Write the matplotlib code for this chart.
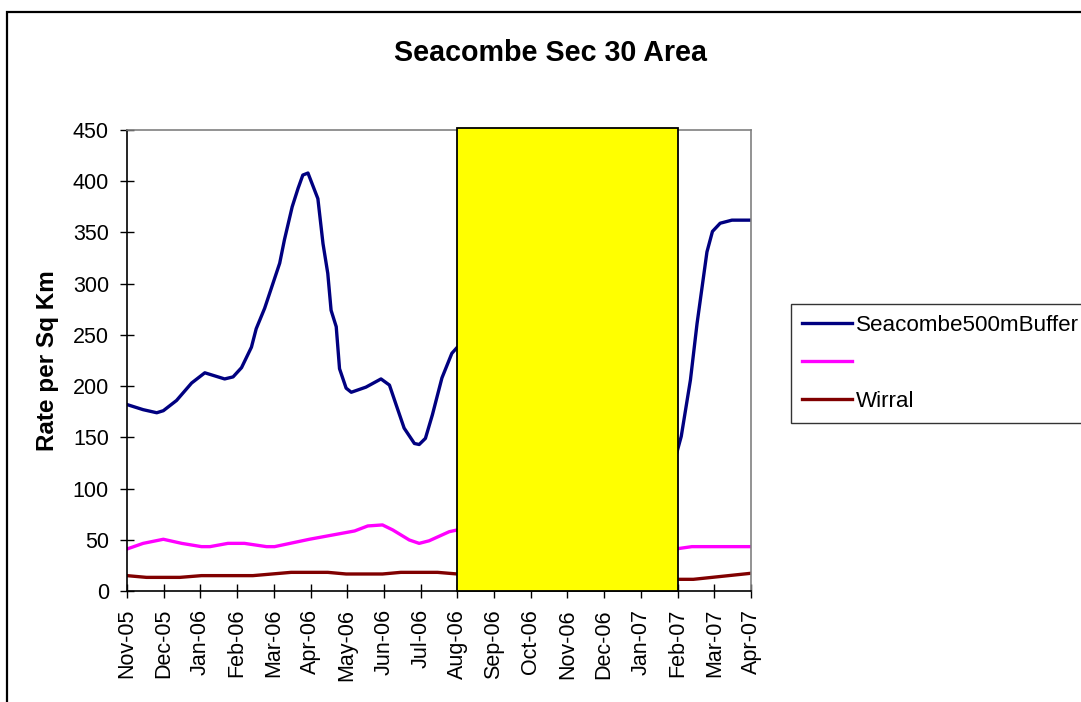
import numpy as np
import matplotlib.pyplot as plt
from matplotlib.patches import Rectangle

plt.rcParams['font.family'] = ['Liberation Sans', 'DejaVu Sans']

# month labels on the category axis (one tick per month)
months = ['Nov-05', 'Dec-05', 'Jan-06', 'Feb-06', 'Mar-06', 'Apr-06', 'May-06', 'Jun-06',
          'Jul-06', 'Aug-06', 'Sep-06', 'Oct-06', 'Nov-06', 'Dec-06', 'Jan-07', 'Feb-07',
          'Mar-07', 'Apr-07']

# values (x = month index, fractional)
buffer_x = [0, 0.44, 0.81, 0.99, 1.35, 1.76, 2.12, 2.66, 2.89, 3.12, 3.39, 3.52, 3.75, 4.16,
            4.29, 4.5, 4.66, 4.79, 4.93, 5.2, 5.34, 5.47, 5.56, 5.7, 5.79, 5.97, 6.11, 6.51,
            6.92, 7.15, 7.33, 7.55, 7.83, 7.96, 8.13, 8.32, 8.58, 8.85, 9.0,
            14.94, 15.1, 15.35, 15.53, 15.8, 15.95, 16.16, 16.48, 17.0]
buffer_y = [182, 177, 174, 176, 186, 203, 213, 207, 209, 218, 238, 256, 276, 320,
            343, 375, 393, 406, 408, 383, 339, 310, 274, 258, 217, 198, 194, 199,
            207, 201, 182, 159, 144, 143, 149, 172, 208, 232, 238,
            130, 151, 206, 261, 331, 351, 359, 362, 362]

pink_x = [0, 0.44, 0.99, 1.49, 2.03, 2.26, 2.75, 3.2, 3.8, 4.02, 4.97, 6.2, 6.56, 6.96,
          7.24, 7.69, 7.96, 8.23, 8.78, 9.0, 14.94, 15.39, 17.0]
pink_y = [41, 46.5, 50.5, 46.5, 43.3, 43.3, 46.5, 46.5, 43.3, 43.3, 50.5, 58.6, 63.5, 64.5,
          59.6, 49.8, 46.5, 49, 57.9, 59.6, 41, 43.3, 43.3]

wirral_x = [0, 0.53, 1.44, 2.03, 3.43, 4.47, 5.47, 5.97, 6.96, 7.46, 8.46, 9.0, 14.94, 15.43, 17.0]
wirral_y = [15, 13.3, 13.3, 15, 15, 18.2, 18.2, 16.6, 16.6, 18.2, 18.2, 16.6, 11.4, 11.4, 17.3]

W, H = 1081, 702
fig = plt.figure(figsize=(W / 100, H / 100), dpi=100)
fig.patch.set_facecolor('white')

# outer chart frame (runs off the right and bottom edges)
fig.add_artist(Rectangle((7.5 / W, -0.05), 1.1, (H - 11.5) / H + 0.05, transform=fig.transFigure,
                         fill=False, edgecolor='black', linewidth=1.6, clip_on=False))

ax = fig.add_axes([127 / W, (H - 591) / H, 624 / W, 461 / H])

l1, = ax.plot(buffer_x, buffer_y, color='#000080', lw=2.4, solid_joinstyle='round')
l2, = ax.plot(pink_x, pink_y, color='#FF00FF', lw=2.4, solid_joinstyle='round')
l3, = ax.plot(wirral_x, wirral_y, color='#800000', lw=2.4, solid_joinstyle='round')

# yellow box over Aug-06 .. Feb-07
ax.add_patch(Rectangle((9, 0), 6, 452, facecolor='#FFFF00', edgecolor='black',
                       linewidth=1.3, zorder=5, clip_on=False))

ax.set_xlim(0, 17)
ax.set_ylim(0, 450)
ax.set_xticks(np.arange(len(months)))
ax.set_xticklabels(months, rotation=90, fontsize=15.5)
ax.set_yticks(np.arange(0, 451, 50))
ax.tick_params(axis='y', labelsize=15.5, direction='inout', length=10, width=1, pad=8)
ax.tick_params(axis='x', direction='inout', length=10, width=1, pad=8)

for s in ['top', 'right']:
    ax.spines[s].set_color('#808080')
    ax.spines[s].set_linewidth(1.2)
for s in ['left', 'bottom']:
    ax.spines[s].set_color('black')
    ax.spines[s].set_linewidth(1.2)

ax.set_ylabel('Rate per Sq Km', fontsize=17.5, fontweight='bold', labelpad=10)
fig.text(551 / W, 1 - 53 / H, 'Seacombe Sec 30 Area', fontsize=20.6, fontweight='bold',
         ha='center', va='center')

leg = fig.legend([l1, l2, l3], ['Seacombe500mBuffer', '', 'Wirral'],
                 loc='upper left', bbox_to_anchor=(790.5 / W, 1 - 304 / H),
                 fontsize=16.1, frameon=True, fancybox=False, edgecolor='black',
                 handlelength=2.25, handletextpad=0.17, labelspacing=0.75,
                 borderpad=0.5, borderaxespad=0)
leg.get_frame().set_linewidth(1.0)

fig.savefig('out.png', dpi=100)
